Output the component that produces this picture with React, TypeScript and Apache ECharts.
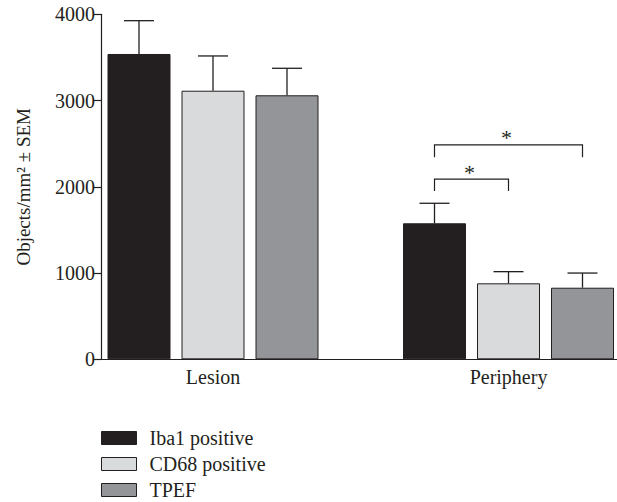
import React, { useEffect, useRef } from "react";
import * as echarts from "echarts";

const categories = ["Lesion", "Periphery"];
const seriesNames = ["Iba1 positive", "CD68 positive", "TPEF"];
const iba1Mean = [3540, 1577];
const iba1Sem = [386, 232];
const cd68Mean = [3114, 881];
const cd68Sem = [403, 135];
const tpefMean = [3061, 830];
const tpefSem = [313, 170];
const yTicks = [0, 1000, 2000, 3000, 4000];
// brackets: [categoryIndex, fromSeries, toSeries, topValue, legEndValue]
const brackets = [
  [1, 0, 1, 2090, 1952],
  [1, 0, 2, 2485, 2342],
];
const bracketLabels = ["*", "*"];

const colors = ["#231f20", "#d9dadc", "#939598"];
const INK = "#231f20";
const FONT = "Liberation Serif";
const BAR_W = 63;
const BAR_GAP = 11;
const CANVAS_W = 700;

export default function App() {
  const ref = useRef<HTMLDivElement>(null);
  useEffect(() => {
    if (!ref.current) return;
    const chart = echarts.init(ref.current, undefined, { renderer: "svg" });
    const means = [iba1Mean, cd68Mean, tpefMean];
    const sems = [iba1Sem, cd68Sem, tpefSem];
    const offsetOf = (k: number) => (k - 1) * (BAR_W + BAR_GAP);

    const barSeries = seriesNames.map((name, k) => ({
      name,
      type: "bar",
      xAxisIndex: 1,
      yAxisIndex: 1,
      data: means[k],
      barWidth: BAR_W,
      barGap: (BAR_GAP / BAR_W) * 100 + "%",
      itemStyle: { color: colors[k], borderColor: INK, borderWidth: 1 },
      emphasis: { disabled: true },
    }));

    const errSeries = seriesNames.map((name, k) => ({
      type: "custom",
      xAxisIndex: 1,
      yAxisIndex: 1,
      silent: true,
      z: 3,
      data: categories.map((_, i) => [i, means[k][i], sems[k][i]]),
      encode: { x: 0, y: 1 },
      renderItem: (params: any, api: any) => {
        const i = api.value(0);
        const m = api.value(1);
        const s = api.value(2);
        const base = api.coord([i, m]);
        const top = api.coord([i, m + s]);
        const x = base[0] + offsetOf(k);
        const cap = 15;
        return {
          type: "group",
          children: [
            {
              type: "line",
              shape: { x1: x, y1: base[1], x2: x, y2: top[1] },
              style: { stroke: INK, lineWidth: 1.3 },
            },
            {
              type: "line",
              shape: { x1: x - cap, y1: top[1], x2: x + cap, y2: top[1] },
              style: { stroke: INK, lineWidth: 1.3 },
            },
          ],
        };
      },
    }));

    const bracketSeries = {
      type: "custom",
      xAxisIndex: 1,
      yAxisIndex: 1,
      silent: true,
      z: 3,
      data: brackets,
      encode: { x: 0, y: 3 },
      renderItem: (params: any, api: any) => {
        const c = api.value(0);
        const f = api.value(1);
        const t = api.value(2);
        const topV = api.value(3);
        const endV = api.value(4);
        const pTop = api.coord([c, topV]);
        const pEnd = api.coord([c, endV]);
        const x1 = pTop[0] + offsetOf(f);
        const x2 = pTop[0] + offsetOf(t);
        return {
          type: "group",
          children: [
            {
              type: "polyline",
              shape: {
                points: [
                  [x1, pEnd[1]],
                  [x1, pTop[1]],
                  [x2, pTop[1]],
                  [x2, pEnd[1]],
                ],
              },
              style: { stroke: INK, lineWidth: 1.2, fill: "none" },
            },
            {
              type: "text",
              x: (x1 + x2) / 2 - 2,
              y: pTop[1] + 4,
              style: {
                text: bracketLabels[params.dataIndex],
                fill: INK,
                font: `22px '${FONT}'`,
                align: "center",
                verticalAlign: "bottom",
              },
            },
          ],
        };
      },
    };

    chart.setOption({
      animation: false,
      backgroundColor: "#ffffff",
      textStyle: { fontFamily: FONT, color: INK },
      grid: [
        { left: 101, right: CANVAS_W - 617, top: 14.3, bottom: 142.7 },
        { left: 65.25, width: 591, top: 14.3, bottom: 142.7 },
      ],
      legend: {
        orient: "vertical",
        left: 101,
        top: 428,
        height: 120,
        padding: 0,
        itemWidth: 35,
        itemHeight: 13,
        itemGap: 6,
        icon: "rect",
        selectedMode: false,
        data: seriesNames,
        itemStyle: { borderColor: INK, borderWidth: 1 },
        textStyle: {
          fontFamily: FONT,
          fontSize: 20,
          lineHeight: 13,
          color: INK,
          padding: [0, 0, 0, 8],
        },
      },
      xAxis: [
        {
          type: "value",
          gridIndex: 0,
          min: 0,
          max: 1,
          axisLine: { show: true, onZero: false, lineStyle: { color: INK, width: 1.2 } },
          axisTick: { show: false },
          axisLabel: { show: false },
          splitLine: { show: false },
        },
        {
          type: "category",
          gridIndex: 1,
          data: categories,
          axisLine: { show: false },
          axisTick: { show: false },
          axisLabel: {
            margin: 8,
            fontFamily: FONT,
            fontSize: 20,
            color: INK,
          },
        },
      ],
      yAxis: [
        {
          type: "value",
          gridIndex: 0,
          min: yTicks[0],
          max: yTicks[yTicks.length - 1],
          interval: yTicks[1] - yTicks[0],
          name: "Objects/mm\u00b2 \u00b1 SEM",
          nameLocation: "middle",
          nameGap: 68,
          nameTextStyle: { fontFamily: FONT, fontSize: 19, color: INK },
          axisLine: { show: true, onZero: false, lineStyle: { color: INK, width: 1.2 } },
          axisTick: { show: true, length: 8, lineStyle: { color: INK, width: 1.2 } },
          axisLabel: {
            margin: 6,
            fontFamily: FONT,
            fontSize: 20,
            color: INK,
            formatter: (v: number) => String(v),
          },
          splitLine: { show: false },
        },
        {
          type: "value",
          gridIndex: 1,
          min: yTicks[0],
          max: yTicks[yTicks.length - 1],
          show: false,
          splitLine: { show: false },
        },
      ],
      series: [...barSeries, ...errSeries, bracketSeries],
    });
    return () => chart.dispose();
  }, []);
  return (
    <div
      style={{
        position: "absolute",
        left: 0,
        top: 0,
        width: 617,
        height: 502,
        overflow: "hidden",
        background: "#ffffff",
      }}
    >
      <div ref={ref} style={{ width: CANVAS_W, height: 502 }} />
    </div>
  );
}
